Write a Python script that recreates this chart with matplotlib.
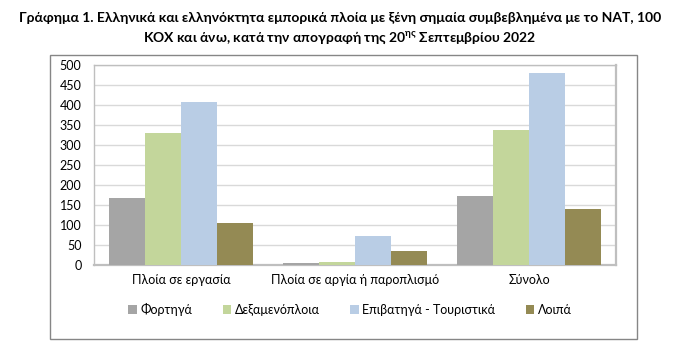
import matplotlib
matplotlib.use("Agg")
import matplotlib.pyplot as plt
from matplotlib.patches import Rectangle
import numpy as np

categories = ["Πλοία σε εργασία", "Πλοία σε αργία ή παροπλισμό", "Σύνολο"]
series_names = ["Φορτηγά", "Δεξαμενόπλοια", "Επιβατηγά - Τουριστικά", "Λοιπά"]
fortiga = [166, 3, 171]
dexamenoploia = [330, 6, 338]
epivatiga = [407, 71, 480]
loipa = [103, 33, 139]
colors = ["#a5a5a5", "#c3d69b", "#b9cde5", "#948a54"]
yticks = [0, 50, 100, 150, 200, 250, 300, 350, 400, 450, 500]

plt.rcParams['font.family'] = ['Lato', 'DejaVu Sans']
plt.rcParams['mathtext.fontset'] = 'custom'
plt.rcParams['mathtext.rm'] = 'Lato:bold'

W, H = 676, 360
fig = plt.figure(figsize=(W / 100, H / 100), dpi=100)

# outer chart box
fig.patches.append(Rectangle((50 / W, 1 - 339 / H), (637 - 50) / W, (339 - 55) / H,
                             transform=fig.transFigure, fill=False,
                             edgecolor="#868686", linewidth=1.0))

ax = fig.add_axes([94 / W, 1 - 264.5 / H, (616 - 94) / W, (264.5 - 65) / H])

data = [fortiga, dexamenoploia, epivatiga, loipa]
x = np.arange(len(categories))
bw = 0.207
for i, (vals, c, name) in enumerate(zip(data, colors, series_names)):
    ax.bar(x + (i - 1.5) * bw, vals, width=bw, color=c, label=name, zorder=3)

ax.set_xlim(-0.5, 2.5)
ax.set_ylim(0, 500)
ax.set_yticks(yticks)
ax.set_xticks(x)
ax.set_xticklabels(categories, fontsize=9)
ax.tick_params(axis='y', labelsize=9, length=0, pad=9)
ax.tick_params(axis='x', length=0, pad=7)
ax.yaxis.grid(True, color="#d9d9d9", linewidth=1.0, zorder=0)
for s in ax.spines.values():
    s.set_color("#bfbfbf")
    s.set_linewidth(1.0)
ax.spines['right'].set_linewidth(1.6)
ax.spines['bottom'].set_linewidth(1.6)

leg = fig.legend(loc='center', bbox_to_anchor=(350 / W, 1 - 309 / H), ncol=4,
                 frameon=False, fontsize=9, handlelength=0.7, handleheight=0.7,
                 handletextpad=0.3, columnspacing=2.4)

fig.text(340 / W, 1 - 18 / H,
         "Γράφημα 1. Ελληνικά και ελληνόκτητα εμπορικά πλοία με ξένη σημαία συμβεβλημένα με το ΝΑΤ, 100",
         ha='center', va='center', fontsize=10, fontweight='bold')
fig.text(340 / W, 1 - 38 / H,
         "ΚΟΧ και άνω, κατά την απογραφή της 20$^{\\mathrm{ης}}$ Σεπτεμβρίου 2022",
         ha='center', va='center', fontsize=10, fontweight='bold')

fig.savefig("out.png", dpi=100)
